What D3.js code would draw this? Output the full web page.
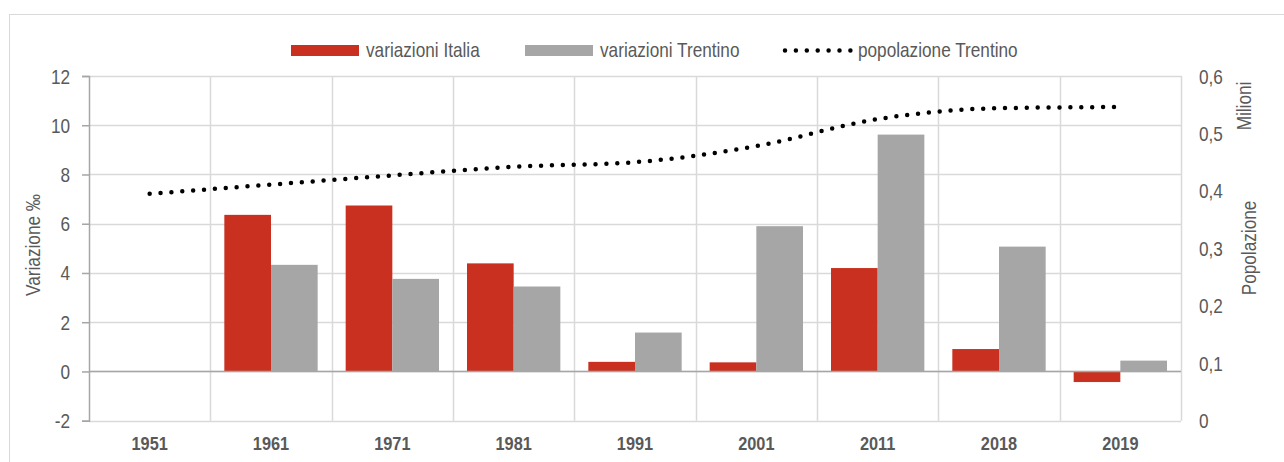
<!DOCTYPE html>
<html><head><meta charset="utf-8">
<script src="https://cdn.jsdelivr.net/npm/d3@7"></script>
<style>
body{margin:0;background:#fff;}
svg{display:block;font-family:"Liberation Sans Narrow","Arial Narrow","Liberation Sans",Arial,sans-serif;}
</style></head><body>
<svg id="c" width="1284" height="462"></svg>
<script>
const categories = ["1951","1961","1971","1981","1991","2001","2011","2018","2019"];
const variazioniItalia = [null,6.36,6.74,4.39,0.39,0.37,4.2,0.91,-0.43];
const variazioniTrentino = [null,4.33,3.76,3.45,1.58,5.9,9.62,5.07,0.44];
const popolazioneTrentino = [0.395,0.411,0.427,0.442,0.450,0.478,0.525,0.544,0.546];
const leftTicks = [-2,0,2,4,6,8,10,12];
const rightTicks = [0,0.1,0.2,0.3,0.4,0.5,0.6];
const seriesNames = ["variazioni Italia","variazioni Trentino","popolazione Trentino"];
const colors = {italia:"#c9301f", trentino:"#a6a6a6", pop:"#000"};
const SX = 0.86; // horizontal condensation to mimic a narrow face

const svg = d3.select("#c");
const m = {l:89, r:1181, t:76, b:420.7};

svg.append("rect").attr("x",9.5).attr("y",14.5).attr("width",1300).attr("height",470)
  .attr("fill","#fff").attr("stroke","#d9d9d9").attr("stroke-width",1);

const x = d3.scaleBand().domain(categories).range([m.l,m.r]).paddingInner(0).paddingOuter(0);
const x1 = d3.scaleBand().domain(["italia","trentino"]).range([0,x.bandwidth()]).paddingInner(0).paddingOuter(0.3);
const y = d3.scaleLinear().domain([-2,12]).range([m.b,m.t]);
const y2 = d3.scaleLinear().domain([0,0.6]).range([m.b,m.t]);

function label(px,py,txt,opts={}){
  const gg = svg.append("g").attr("transform",`translate(${px},${py})${opts.rotate?` rotate(${opts.rotate})`:""} scale(${SX},1)`);
  gg.append("text").attr("text-anchor",opts.anchor||"start").attr("fill","#595959")
    .style("font-size",(opts.size||20)+"px").style("font-weight",opts.bold?"bold":null).text(txt);
  return gg;
}

// gridlines
const g = svg.append("g");
g.selectAll("line.h").data(leftTicks).join("line")
  .attr("x1",m.l).attr("x2",m.r).attr("y1",d=>Math.round(y(d))+0.5).attr("y2",d=>Math.round(y(d))+0.5)
  .attr("stroke","#d9d9d9").attr("stroke-width",1.5);
const vb = categories.map(c=>x(c)).concat([m.r]).slice(1);
g.selectAll("line.v").data(vb).join("line")
  .attr("x1",d=>Math.round(d)+0.5).attr("x2",d=>Math.round(d)+0.5).attr("y1",m.t).attr("y2",m.b)
  .attr("stroke","#d9d9d9").attr("stroke-width",1.5);

// bars
const bars = svg.append("g");
categories.forEach((c,i)=>{
  [["italia",variazioniItalia[i]],["trentino",variazioniTrentino[i]]].forEach(([k,v])=>{
    if(v==null) return;
    bars.append("rect")
      .attr("x",x(c)+x1(k)).attr("width",x1.bandwidth())
      .attr("y",y(Math.max(0,v))).attr("height",Math.abs(y(v)-y(0)))
      .attr("fill",colors[k]);
  });
});

// zero line
svg.append("line").attr("x1",m.l).attr("x2",m.r).attr("y1",y(0)).attr("y2",y(0))
  .attr("stroke","#a6a6a6").attr("stroke-width",1.5);

// left axis
const ax = svg.append("g").attr("transform",`translate(${m.l},0)`)
  .call(d3.axisLeft(y).tickValues(leftTicks).tickSize(7).tickPadding(0).tickFormat(d=>String(d)));
ax.select(".domain").attr("stroke","#a6a6a6").attr("stroke-width",1.5);
ax.selectAll(".tick line").attr("stroke","#a6a6a6").attr("stroke-width",1.5);
ax.selectAll(".tick text").attr("x",null).attr("dy","0.35em")
  .attr("transform",`translate(-19,0) scale(${SX},1)`)
  .attr("fill","#595959").style("font-size","20px").attr("font-family",null);

// right axis
const ar = svg.append("g").attr("transform",`translate(${m.r},0)`)
  .call(d3.axisRight(y2).tickValues(rightTicks).tickSize(0).tickPadding(0)
    .tickFormat(d=> d===0 ? "0" : d3.format(".1f")(d).replace(".",",")));
ar.select(".domain").remove();
ar.selectAll(".tick text").attr("x",null).attr("dy","0.35em")
  .attr("transform",`translate(18,0) scale(${SX},1)`)
  .attr("fill","#595959").style("font-size","20px").attr("font-family",null);

// x axis labels
const axb = svg.append("g").attr("transform",`translate(0,${m.b})`)
  .call(d3.axisBottom(x).tickSize(0).tickPadding(16));
axb.select(".domain").remove();
axb.selectAll(".tick text").attr("transform",`scale(${SX},1)`)
  .attr("fill","#595959").style("font-size","19px").style("font-weight","bold").attr("font-family",null);

// population line
const line = d3.line().x((d,i)=>x(categories[i])+x.bandwidth()/2).y(d=>y2(d)).curve(d3.curveMonotoneX);
svg.append("path").datum(popolazioneTrentino).attr("d",line)
  .attr("fill","none").attr("stroke",colors.pop).attr("stroke-width",4.5)
  .attr("stroke-linecap","round").attr("stroke-dasharray","0 10.9");

// axis titles
label(40,245,"Variazione ‰",{rotate:-90,anchor:"middle"});
label(1251,106,"Milioni",{rotate:-90,anchor:"middle"});
label(1256,248,"Popolazione",{rotate:-90,anchor:"middle"});

// legend
const lg = svg.append("g");
const legendItems = [
  {name:seriesNames[0], type:"rect", color:colors.italia, x:291},
  {name:seriesNames[1], type:"rect", color:colors.trentino, x:525},
  {name:seriesNames[2], type:"line", color:colors.pop, x:783}
];
legendItems.forEach(it=>{
  if(it.type==="rect"){
    lg.append("rect").attr("x",it.x).attr("y",45).attr("width",68).attr("height",11).attr("fill",it.color);
  } else {
    lg.append("line").attr("x1",it.x+2).attr("x2",it.x+68).attr("y1",50.5).attr("y2",50.5)
      .attr("stroke",it.color).attr("stroke-width",4.5).attr("stroke-linecap","round").attr("stroke-dasharray","0 10.9");
  }
  label(it.x+75,57,it.name);
});
</script></body></html>
